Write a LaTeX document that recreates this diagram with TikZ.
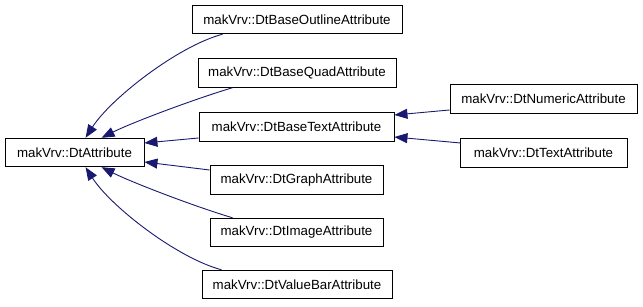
\documentclass[tikz,border=0pt]{standalone}
\usepackage{fontspec}
\setmainfont{Liberation Sans}
\usetikzlibrary{arrows.meta}
\definecolor{edgeblue}{HTML}{191970}
\begin{document}
\begin{tikzpicture}[x=1pt,y=-1pt,
  cls/.style={draw=black,line width=0.9pt,fill=white,inner sep=0pt,minimum height=28.5pt,
    font=\fontsize{13.3}{16}\selectfont},
  inh/.style={draw=edgeblue,line width=0.9pt,-{Triangle[length=13pt,width=10pt]}}]
\useasboundingbox (0,0) rectangle (643,307);
\node[cls,minimum width=139pt] (attr) at (74.5,152.5) {makVrv::DtAttribute};
\node[cls,minimum width=210pt] (outline) at (297,19.5) {makVrv::DtBaseOutlineAttribute};
\node[cls,minimum width=198pt] (quad) at (297,73) {makVrv::DtBaseQuadAttribute};
\node[cls,minimum width=195pt] (basetext) at (296.5,127) {makVrv::DtBaseTextAttribute};
\node[cls,minimum width=173pt] (graph) at (296.5,180) {makVrv::DtGraphAttribute};
\node[cls,minimum width=173pt] (image) at (296.5,232.5) {makVrv::DtImageAttribute};
\node[cls,minimum width=190pt] (valuebar) at (297,284.5) {makVrv::DtValueBarAttribute};
\node[cls,minimum width=187pt] (numeric) at (543.5,99) {makVrv::DtNumericAttribute};
\node[cls,minimum width=167pt] (text) at (543.5,153) {makVrv::DtTextAttribute};
% edges to DtAttribute
\draw[inh] ([xshift=31pt]outline.south west) .. controls +(-45,12) and +(25,-39) .. ([xshift=81pt]attr.north west);
\draw[inh] ([xshift=35pt]quad.south west) .. controls +(-40,12) and +(30,-15) .. ([xshift=97pt]attr.north west);
\draw[inh] ([yshift=-11pt]basetext.west) -- ([yshift=9.5pt]attr.east);
\draw[inh] ([yshift=10pt]graph.west) -- ([yshift=-9.5pt]attr.east);
\draw[inh] ([xshift=23pt]image.north west) .. controls +(-40,-12) and +(30,15) .. ([xshift=97pt]attr.south west);
\draw[inh] ([xshift=20pt]valuebar.north west) .. controls +(-45,-12) and +(25,39) .. ([xshift=81pt]attr.south west);
% edges to DtBaseTextAttribute
\draw[inh] ([yshift=-11pt]numeric.west) -- ([yshift=12pt]basetext.east);
\draw[inh] ([yshift=10pt,xshift=1pt]text.west) -- ([yshift=-10pt]basetext.east);
\end{tikzpicture}
\end{document}
